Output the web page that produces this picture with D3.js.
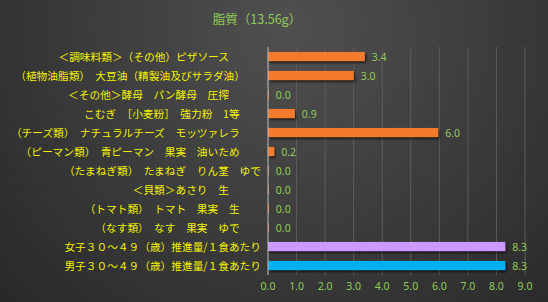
<!DOCTYPE html>
<html>
<head>
<meta charset="utf-8">
<script src="https://cdn.jsdelivr.net/npm/d3@7"></script>
<style>
  html, body { margin: 0; padding: 0; background: #2a2a2a; }
  svg { display: block; }
  .cat { white-space: pre; }
</style>
</head>
<body>
<div class="viz"></div>
<script>
// 脂質の比較（横棒グラフ）

var title = "脂質（13.56g）";

var categories = [
    "＜調味料類＞（その他）ピザソース　　　",
    "（植物油脂類）　大豆油（精製油及びサラダ油）　　",
    "＜その他＞酵母　パン酵母　圧搾　　　",
    "こむぎ　［小麦粉］　強力粉　1等　　",
    "（チーズ類）　ナチュラルチーズ　モッツァレラ　　",
    "（ピーマン類）　青ピーマン　果実　油いため　　",
    "（たまねぎ類）　たまねぎ　りん茎　ゆで",
    "＜貝類＞あさり　生　　　",
    "（トマト類）　トマト　果実　生　　",
    "（なす類）　なす　果実　ゆで　　",
    "女子３０～４９（歳）推進量/１食あたり",
    "男子３０～４９（歳）推進量/１食あたり"
];

var values = [3.39, 3.0, 0.03, 0.94, 5.96, 0.22, 0.03, 0.03, 0.03, 0.03, 8.31, 8.31];

var barColors = ["#f47a2e", "#f47a2e", "#f47a2e", "#f47a2e", "#f47a2e", "#f47a2e",
                 "#f47a2e", "#f47a2e", "#f47a2e", "#f47a2e", "#cc99ff", "#00b0f0"];

var ticks = [0, 1, 2, 3, 4, 5, 6, 7, 8, 9];

var width = 548, height = 302;
var margin = {top: 47, right: 23, bottom: 30, left: 268};

var svg = d3.select('.viz')
    .append('svg')
    .attr('width', width)
    .attr('height', height);

var defs = svg.append('defs');
var grad = defs.append('radialGradient')
    .attr('id', 'bg')
    .attr('gradientUnits', 'userSpaceOnUse')
    .attr('cx', 290).attr('cy', 30).attr('r', 420);
grad.append('stop').attr('offset', '0%').attr('stop-color', '#505050');
grad.append('stop').attr('offset', '100%').attr('stop-color', '#262626');

var shadow = defs.append('filter')
    .attr('id', 'shadow')
    .attr('x', '-5%').attr('y', '-50%')
    .attr('width', '120%').attr('height', '250%');
shadow.append('feDropShadow')
    .attr('dx', 1.5).attr('dy', 2)
    .attr('stdDeviation', 1)
    .attr('flood-color', '#000')
    .attr('flood-opacity', 0.6);

svg.append('rect')
    .attr('width', width).attr('height', height)
    .attr('fill', 'url(#bg)');

var x = d3.scaleLinear()
    .domain([0, 9])
    .range([margin.left, width - margin.right]);

var y = d3.scaleBand()
    .domain(categories)
    .range([margin.top, height - margin.bottom + 3])
    .paddingInner(0.52)
    .paddingOuter(0.26);

// grid
svg.append('g')
    .selectAll('line')
    .data(ticks.slice(1))
    .enter()
    .append('line')
    .attr('x1', d => x(d)).attr('x2', d => x(d))
    .attr('y1', margin.top).attr('y2', height - margin.bottom + 3)
    .attr('stroke', '#5c5c5c')
    .attr('stroke-width', 1);

// bars
svg.append('g')
    .selectAll('rect')
    .data(values)
    .enter()
    .append('rect')
    .attr('x', x(0))
    .attr('y', (d, i) => y(categories[i]))
    .attr('width', d => x(d) - x(0))
    .attr('height', y.bandwidth())
    .attr('fill', (d, i) => barColors[i])
    .attr('filter', 'url(#shadow)');

// axis line
svg.append('line')
    .attr('x1', x(0)).attr('x2', x(0))
    .attr('y1', margin.top).attr('y2', height - margin.bottom + 3)
    .attr('stroke', '#bfbfbf')
    .attr('stroke-width', 1);

// value labels
svg.append('g')
    .selectAll('text')
    .data(values)
    .enter()
    .append('text')
    .attr('x', d => x(d) + 7)
    .attr('y', (d, i) => y(categories[i]) + y.bandwidth() / 2 + 4)
    .attr('font-family', 'Noto Sans, sans-serif')
    .attr('font-size', '10.5px')
    .attr('fill', '#92c95a')
    .text(d => d3.format('.1f')(d));

// category labels
svg.append('g')
    .selectAll('text')
    .data(categories)
    .enter()
    .append('text')
    .attr('class', 'cat')
    .attr('x', margin.left - 7)
    .attr('y', d => y(d) + y.bandwidth() / 2 + 4)
    .attr('text-anchor', 'end')
    .attr('font-family', 'Noto Sans CJK JP, sans-serif')
    .attr('font-size', '10.7px')
    .attr('fill', '#f2f200')
    .text(d => d);

// x tick labels
svg.append('g')
    .selectAll('text')
    .data(ticks)
    .enter()
    .append('text')
    .attr('x', d => x(d))
    .attr('y', height - 12)
    .attr('text-anchor', 'middle')
    .attr('font-family', 'Noto Sans, sans-serif')
    .attr('font-size', '10.5px')
    .attr('fill', '#92c95a')
    .text(d => d3.format('.1f')(d));

// title
svg.append('text')
    .attr('x', 257)
    .attr('y', 24)
    .attr('text-anchor', 'middle')
    .attr('font-family', 'Noto Sans CJK JP, sans-serif')
    .attr('font-size', '12.5px')
    .attr('fill', '#92c95a')
    .text(title);
</script>
</body>
</html>
